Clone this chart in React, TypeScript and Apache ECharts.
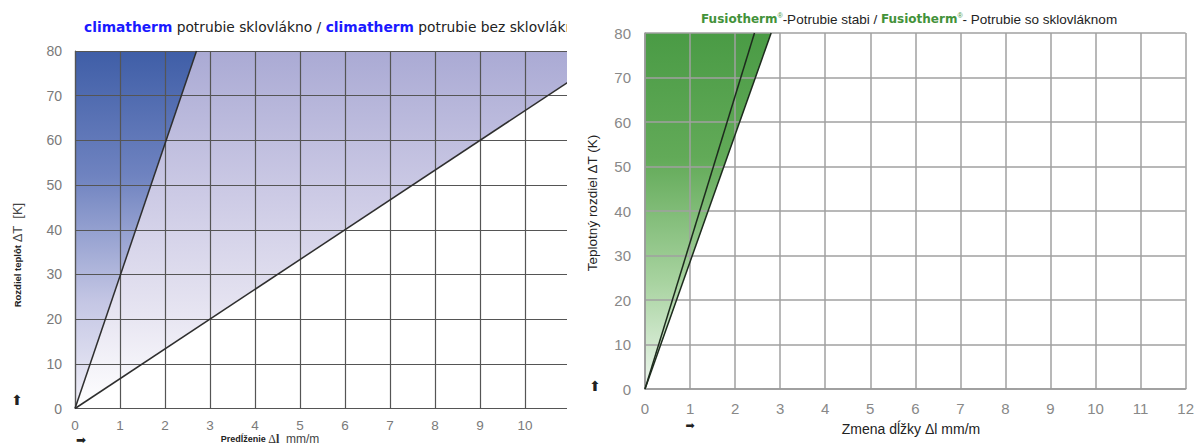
import React, { useEffect, useRef } from 'react';
import * as echarts from 'echarts';

// ---------- data ----------
const xMin = 0;
const xMax = 12;
const yMin = 0;
const yMax = 80;
const xInterval = 1;
const yInterval = 10;

// left chart (climatherm)
const leftSteepLine = [[0, 0], [2.7, 80]];
const leftShallowLine = [[0, 0], [12, 80]];
const leftDarkRegion = [[0, 0], [2.7, 80], [0, 80]];
const leftLightRegion = [[0, 0], [12, 80], [2.7, 80]];
const leftVisibleMaxLabel = 10;

// right chart (fusiotherm)
const rightStabiLine = [[0, 0], [2.43, 80]];
const rightGlassLine = [[0, 0], [2.8, 80]];
const rightGreenRegion = [[0, 0], [2.8, 80], [0, 80]];

const leftTitleBrand = 'climatherm';
const leftTitleA = ' potrubie sklovlákno / ';
const leftTitleB = ' potrubie bez sklovlákna';
const rightTitleBrand = 'Fusiotherm';
const rightTitleA = '-Potrubie stabi / ';
const rightTitleB = '- Potrubie so sklovláknom';

function polygonSeries(region: number[][], stops: { offset: number; color: string }[]) {
  return {
    type: 'custom',
    silent: true,
    data: [0],
    renderItem: (_p: any, api: any) => {
      const pts = region.map((p) => api.coord(p));
      return {
        type: 'polygon',
        shape: { points: pts },
        style: { fill: new echarts.graphic.LinearGradient(0, 0, 0, 1, stops) },
      };
    },
    z: 1,
  };
}

function lineSeries(data: number[][], color: string, width: number) {
  return {
    type: 'line',
    data,
    showSymbol: false,
    symbol: 'none',
    lineStyle: { color, width },
    z: 5,
    silent: true,
  };
}

function useChart(ref: React.RefObject<HTMLDivElement>, option: any) {
  useEffect(() => {
    if (!ref.current) return;
    const c = echarts.init(ref.current, undefined, { renderer: 'svg' });
    c.setOption(option);
    return () => c.dispose();
  }, []);
}

const leftOption = {
  animation: false,
  grid: { left: 75, top: 51, width: 540, height: 357.5 },
  title: {
    left: 84,
    top: 20,
    padding: 0,
    text: `{b|${leftTitleBrand}}{n|${leftTitleA}}{b|${leftTitleBrand}}{n|${leftTitleB}}`,
    textStyle: {
      rich: {
        b: { fontFamily: 'DejaVu Sans', fontSize: 13.8, fontWeight: 'bold', color: '#1a1aff' },
        n: { fontFamily: 'DejaVu Sans', fontSize: 13.8, fontWeight: 'normal', color: '#222' },
      },
    },
  },
  xAxis: {
    type: 'value', min: xMin, max: xMax, interval: xInterval, z: 3,
    axisLine: { show: false }, axisTick: { show: false },
    axisLabel: {
      color: '#7a7a7a', fontSize: 13.5, fontFamily: 'Liberation Sans', margin: 10,
      formatter: (v: number) => (v <= leftVisibleMaxLabel ? String(v) : ''),
    },
    splitLine: { lineStyle: { color: '#555', width: 1.2 } },
  },
  yAxis: {
    type: 'value', min: yMin, max: yMax, interval: yInterval, z: 3,
    axisLine: { show: true, lineStyle: { color: '#555', width: 1.2 } }, axisTick: { show: false },
    axisLabel: { color: '#7a7a7a', fontSize: 14, fontFamily: 'Liberation Sans', margin: 13 },
    splitLine: { lineStyle: { color: '#555', width: 1.2 } },
  },
  graphic: [
    {
      type: 'text', x: 17, y: 255, rotation: Math.PI / 2,
      style: {
        text: '{s|Rozdiel teplôt }{l|ΔT  [K]}',
        align: 'center', verticalAlign: 'middle',
        rich: {
          s: { fontFamily: 'Liberation Sans', fontSize: 9.5, fontWeight: 'bold', fill: '#222' },
          l: { fontFamily: 'Liberation Sans', fontSize: 13, fill: '#444' },
        },
      },
    },
    {
      type: 'text', x: 270, y: 439,
      style: {
        text: '{s|Predĺženie }{d|Δ}{l|l}{m|  mm/m}',
        align: 'center', verticalAlign: 'middle',
        rich: {
          s: { fontFamily: 'Liberation Sans', fontSize: 9, fontWeight: 'bold', fill: '#222' },
          d: { fontFamily: 'Liberation Serif', fontSize: 12, fill: '#333' },
          l: { fontFamily: 'Liberation Serif', fontSize: 12, fontWeight: 'bold', fill: '#333' },
          m: { fontFamily: 'Liberation Sans', fontSize: 12, fill: '#444' },
        },
      },
    },
    { type: 'text', x: 17, y: 400, style: { text: '⬆', fontFamily: 'DejaVu Sans', fontSize: 14, fill: '#222', align: 'center', verticalAlign: 'middle' } },
    { type: 'text', x: 81, y: 440, style: { text: '➡', fontFamily: 'DejaVu Sans', fontSize: 12, fill: '#222', align: 'center', verticalAlign: 'middle' } },
  ],
  series: [
    polygonSeries(leftDarkRegion, [
      { offset: 0, color: '#3f5ea7' },
      { offset: 0.35, color: '#6f83c0' },
      { offset: 0.7, color: '#c4c6e4' },
      { offset: 1, color: '#f1f0f8' },
    ]),
    polygonSeries(leftLightRegion, [
      { offset: 0, color: '#aaaad4' },
      { offset: 0.4, color: '#cccae5' },
      { offset: 0.75, color: '#e8e6f2' },
      { offset: 1, color: '#ffffff' },
    ]),
    lineSeries(leftSteepLine, '#2e2e2e', 1.5),
    lineSeries(leftShallowLine, '#2e2e2e', 1.5),
  ],
};

const rightOption = {
  animation: false,
  grid: { left: 79, top: 33, right: 8, height: 356 },
  title: {
    left: 130,
    top: 7,
    text: `{b|${rightTitleBrand}}{r|®}{n|${rightTitleA}}{b|${rightTitleBrand}}{r|®}{n|${rightTitleB}}`,
    textStyle: {
      rich: {
        b: { fontFamily: 'DejaVu Sans', fontSize: 12, fontWeight: 'bold', color: '#43923a' },
        r: { fontFamily: 'Liberation Sans', fontSize: 7, fontWeight: 'normal', color: '#43923a', verticalAlign: 'top' },
        n: { fontFamily: 'Liberation Sans', fontSize: 13.5, fontWeight: 'normal', color: '#222' },
      },
    },
  },
  xAxis: {
    type: 'value', min: xMin, max: xMax, interval: xInterval, z: 3,
    axisLine: { show: true, lineStyle: { color: '#999', width: 1.5 } }, axisTick: { show: false },
    axisLabel: { color: '#888', fontSize: 15, fontFamily: 'Liberation Sans', margin: 12 },
    splitLine: { lineStyle: { color: '#a0a0a0', width: 1.5 } },
  },
  yAxis: {
    type: 'value', min: yMin, max: yMax, interval: yInterval, z: 3,
    axisLine: { show: true, lineStyle: { color: '#999', width: 1.5 } }, axisTick: { show: false },
    axisLabel: { color: '#888', fontSize: 15, fontFamily: 'Liberation Sans', margin: 14 },
    splitLine: { lineStyle: { color: '#a0a0a0', width: 1.5 } },
  },
  graphic: [
    {
      type: 'text', x: 26, y: 203, rotation: Math.PI / 2,
      style: {
        text: 'Teplotný rozdiel ΔT (K)',
        fontFamily: 'Liberation Sans', fontSize: 13.5, fill: '#222',
        align: 'center', verticalAlign: 'middle',
      },
    },
    {
      type: 'text', x: 345, y: 429,
      style: {
        text: 'Zmena dĺžky Δl mm/m',
        fontFamily: 'Liberation Sans', fontSize: 14, fill: '#222',
        align: 'center', verticalAlign: 'middle',
      },
    },
    { type: 'text', x: 29, y: 386, style: { text: '⬆', fontFamily: 'DejaVu Sans', fontSize: 14, fill: '#222', align: 'center', verticalAlign: 'middle' } },
    { type: 'text', x: 124, y: 425, style: { text: '➡', fontFamily: 'DejaVu Sans', fontSize: 11, fill: '#222', align: 'center', verticalAlign: 'middle' } },
  ],
  series: [
    polygonSeries(rightGreenRegion, [
      { offset: 0, color: '#4a9b45' },
      { offset: 0.35, color: '#62aa58' },
      { offset: 0.7, color: '#a8d3a0' },
      { offset: 1, color: '#eef7ef' },
    ]),
    lineSeries(rightStabiLine, '#1d2b1d', 1.5),
    lineSeries(rightGlassLine, '#1d2b1d', 1.5),
  ],
};

export default function App() {
  const leftRef = useRef<HTMLDivElement>(null);
  const rightRef = useRef<HTMLDivElement>(null);
  useChart(leftRef, leftOption);
  useChart(rightRef, rightOption);
  return (
    <div style={{ position: 'fixed', left: 0, top: 0, width: 1197, height: 446, background: '#fff', overflow: 'hidden' }}>
      <div style={{ position: 'absolute', left: 0, top: 0, width: 567, height: 446, overflow: 'hidden' }}>
        <div ref={leftRef} style={{ width: 640, height: 446 }} />
      </div>
      <div style={{ position: 'absolute', left: 566, top: 0, width: 631, height: 446 }}>
        <div ref={rightRef} style={{ width: 631, height: 446 }} />
      </div>
    </div>
  );
}
